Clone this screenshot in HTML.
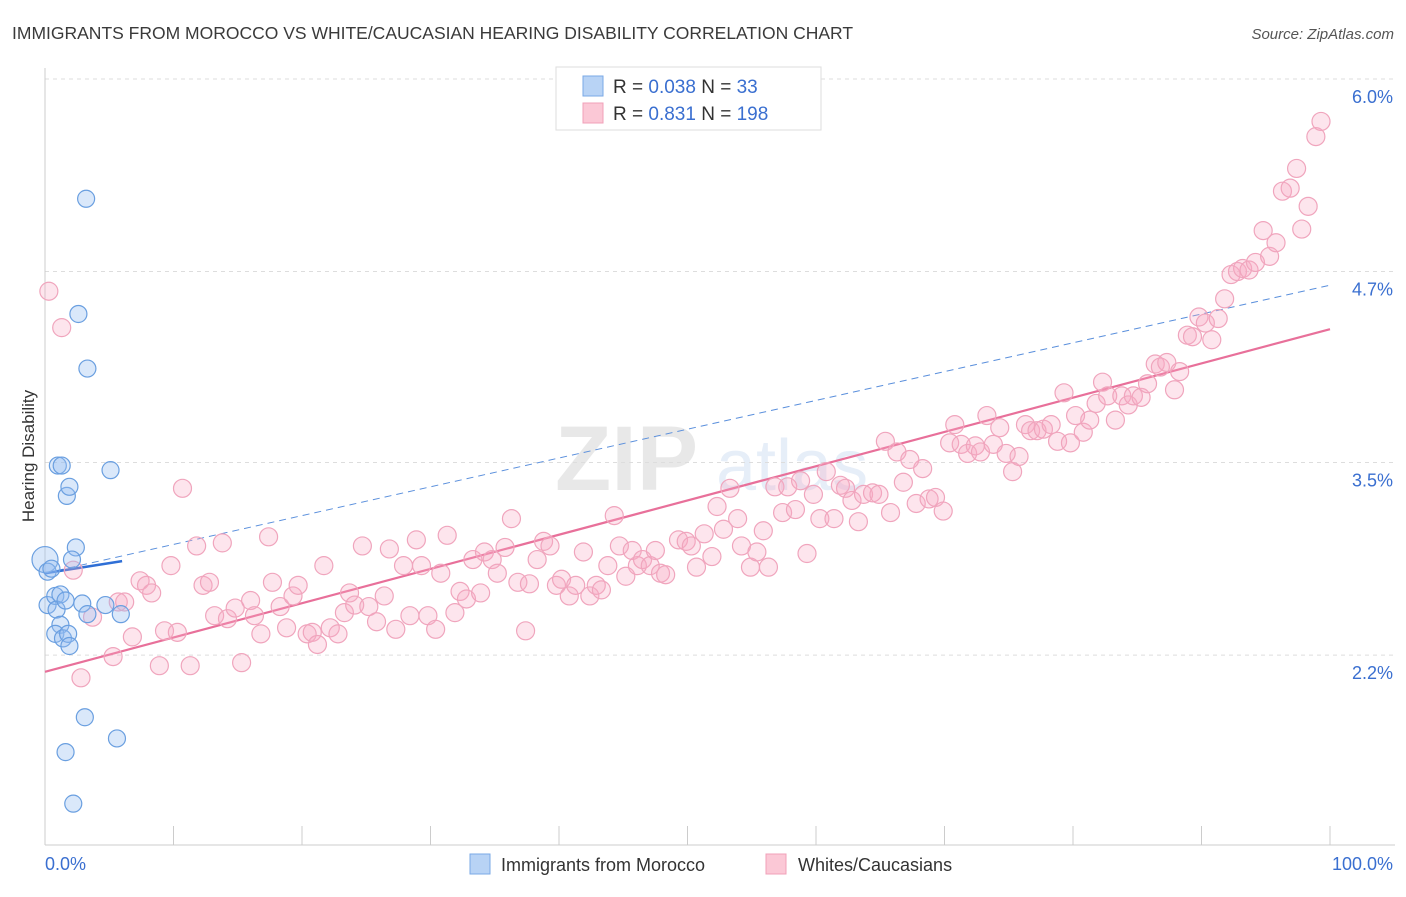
<!DOCTYPE html>
<html><head><meta charset="utf-8">
<style>
body{margin:0;background:#fff;font-family:"Liberation Sans",sans-serif;}
svg text{font-family:"Liberation Sans",sans-serif;}
</style></head>
<body>
<svg id="chart" width="1406" height="892" viewBox="0 0 1406 892" xmlns="http://www.w3.org/2000/svg">
<text x="12" y="39" font-size="17.5" fill="#3a3a3a">IMMIGRANTS FROM MOROCCO VS WHITE/CAUCASIAN HEARING DISABILITY CORRELATION CHART</text>
<text x="1394" y="39" font-size="15" fill="#555" text-anchor="end" font-style="italic">Source: ZipAtlas.com</text>
<g opacity="0.13">
<text x="555" y="490" font-size="92" font-family="Liberation Serif" fill="#555" font-weight="bold">ZIP</text>
<text x="716" y="490" font-size="72" fill="#4a7fd0">atlas</text>
</g>
<g id="grid"></g>
<g id="axes"></g>
<g id="trends"></g>
<g id="pts"></g>
<text transform="translate(34,456) rotate(-90)" font-size="17" fill="#333" text-anchor="middle">Hearing Disability</text>
<g>
<rect x="556" y="67" width="265" height="63" fill="#fff" stroke="#ddd"/>
<rect x="583" y="76" width="20" height="20" fill="#b8d3f5" stroke="#7aa8e6"/>
<rect x="583" y="103" width="20" height="20" fill="#fbc8d6" stroke="#f0a0b8"/>
<text x="613" y="93" font-size="19" fill="#333">R = <tspan fill="#3a6fd0">0.038</tspan>   N =  <tspan fill="#3a6fd0"> 33</tspan></text>
<text x="613" y="120" font-size="19" fill="#333">R =  <tspan fill="#3a6fd0">0.831</tspan>   N = <tspan fill="#3a6fd0">198</tspan></text>
</g>
<g>
<rect x="470" y="854" width="20" height="20" fill="#b8d3f5" stroke="#7aa8e6"/>
<text x="501" y="871" font-size="18" fill="#333">Immigrants from Morocco</text>
<rect x="766" y="854" width="20" height="20" fill="#fbc8d6" stroke="#f0a0b8"/>
<text x="798" y="871" font-size="18" fill="#333">Whites/Caucasians</text>
</g>
</svg>
<script>
const yTicks=[2.2,3.47,4.73,6.0];
const yTickLabels=["2.2%","3.5%","4.7%","6.0%"];
const xTicks=[0,10,20,30,40,50,60,70,80,90,100];
const xTickLabels=["0.0%","100.0%"];
const moroccoX=[0,0.2,0.5,0.2,0.8,1.2,0.9,1.6,1.2,0.8,1.4,1.8,1.9,2.4,2.1,2.9,3.3,4.7,5.9,1.0,1.3,1.7,1.9,5.1,3.2,2.6,3.3,3.1,5.6,1.6,2.2];
const moroccoY=[2.83,2.75,2.77,2.53,2.59,2.60,2.50,2.56,2.40,2.34,2.31,2.34,2.26,2.91,2.83,2.54,2.47,2.53,2.47,3.45,3.45,3.25,3.31,3.42,5.21,4.45,4.09,1.79,1.65,1.56,1.22];
const whitesX=[0.3,1.3,11.8,10.7,13.8,17.4,2.2,2.8,5.3,3.7,5.7,6.2,6.8,7.4,7.9,8.3,8.9,9.3,10.3,9.8,11.3,12.3,12.8,13.2,14.2,14.8,15.3,16.0,16.3,16.8,17.7,18.3,18.8,19.3,19.7,20.4,20.8,21.2,21.7,22.2,22.8,23.7,23.3,24.1,24.7,25.2,25.8,26.4,26.8,27.3,27.9,28.4,28.9,29.3,29.8,30.4,30.8,31.3,31.9,32.3,32.8,33.3,33.9,34.2,34.8,35.2,35.8,36.3,36.8,37.4,37.7,38.3,38.8,39.3,39.8,40.2,40.8,41.3,41.9,42.4,42.9,43.3,43.8,44.3,44.7,45.2,45.7,46.1,46.5,47.1,47.5,47.9,48.3,49.3,49.9,50.3,50.7,51.3,51.9,52.3,52.8,53.3,53.9,54.2,54.9,55.4,55.9,56.3,56.8,57.4,57.8,58.4,58.8,59.3,59.8,60.3,60.8,61.4,61.9,62.3,62.8,63.3,63.7,64.4,64.9,65.4,65.8,66.3,66.8,67.3,67.8,68.3,68.8,69.3,69.9,70.4,70.8,71.3,71.8,72.4,72.8,73.3,73.8,74.3,74.8,75.3,75.8,76.3,76.7,77.2,77.7,78.3,78.8,79.3,79.8,80.2,80.8,81.3,81.8,82.3,82.7,83.3,83.8,84.3,84.7,85.3,85.8,86.4,86.8,87.3,87.9,88.3,88.9,89.3,89.8,90.3,90.8,91.3,91.8,92.3,92.8,93.2,93.7,94.2,95.3,94.8,95.8,96.3,96.9,97.4,97.8,98.3,98.9,99.3];
const whitesY=[4.60,4.36,2.92,3.30,2.94,2.98,2.76,2.05,2.19,2.45,2.55,2.55,2.32,2.69,2.66,2.61,2.13,2.36,2.35,2.79,2.13,2.66,2.68,2.46,2.44,2.51,2.15,2.56,2.46,2.34,2.68,2.52,2.38,2.59,2.66,2.34,2.35,2.27,2.79,2.38,2.34,2.61,2.48,2.53,2.92,2.52,2.42,2.59,2.90,2.37,2.79,2.46,2.96,2.79,2.46,2.37,2.74,2.99,2.48,2.62,2.57,2.83,2.61,2.88,2.83,2.74,2.91,3.10,2.68,2.36,2.67,2.83,2.95,2.92,2.66,2.70,2.59,2.66,2.88,2.59,2.66,2.63,2.79,3.12,2.92,2.72,2.89,2.79,2.83,2.79,2.89,2.74,2.73,2.96,2.95,2.92,2.78,3.00,2.85,3.18,3.03,3.30,3.10,2.92,2.78,2.88,3.02,2.78,3.31,3.14,3.31,3.16,3.35,2.87,3.26,3.10,3.41,3.10,3.32,3.30,3.22,3.08,3.26,3.27,3.26,3.61,3.14,3.54,3.34,3.49,3.20,3.43,3.23,3.24,3.15,3.60,3.72,3.59,3.53,3.58,3.54,3.78,3.59,3.70,3.53,3.41,3.51,3.72,3.68,3.68,3.69,3.72,3.61,3.93,3.60,3.78,3.67,3.75,3.86,4.00,3.91,3.75,3.91,3.85,3.91,3.90,3.99,4.12,4.10,4.13,3.95,4.07,4.31,4.30,4.43,4.39,4.28,4.42,4.55,4.71,4.73,4.75,4.74,4.79,4.83,5.00,4.92,5.26,5.28,5.41,5.01,5.16,5.62,5.72];
const whitesTrendX=[0,100];
const whitesTrendY=[2.09,4.35];
const moroccoDashX=[0,100];
const moroccoDashY=[2.74,4.64];
const moroccoSolidX=[0,6];
const moroccoSolidY=[2.74,2.82];

const NS="http://www.w3.org/2000/svg";
const X=v=>45+v*12.85;
const Y=v=>79+(6.0-v)*151.6;
function mk(tag,attrs,parent){const e=document.createElementNS(NS,tag);for(const k in attrs)e.setAttribute(k,attrs[k]);parent.appendChild(e);return e;}
const grid=document.getElementById('grid'),axes=document.getElementById('axes'),trends=document.getElementById('trends'),pts=document.getElementById('pts');
yTicks.forEach((t,i)=>{
  const l=mk('line',{x1:45,x2:1395,y1:Y(t),y2:Y(t),stroke:'#ddd','stroke-dasharray':'4,4'},grid);
  
  
  const tx=mk('text',{x:1393,y:Y(t)+24,'font-size':18,fill:'#3a6fd0','text-anchor':'end'},grid);
  tx.textContent=yTickLabels[i];
  
  
});
const ax=mk('line',{x1:45,x2:45,y1:68,y2:845,stroke:'#ccc'},axes);


const bx=mk('line',{x1:45,x2:1395,y1:845,y2:845,stroke:'#ccc'},axes);


xTicks.forEach(t=>{
  const l=mk('line',{x1:X(t),x2:X(t),y1:826,y2:845,stroke:'#ccc'},axes);
  
  
});
const xl0=mk('text',{x:45,y:870,'font-size':18,fill:'#3a6fd0'},axes);xl0.textContent=xTickLabels[0];


const xl1=mk('text',{x:1393,y:870,'font-size':18,fill:'#3a6fd0','text-anchor':'end'},axes);xl1.textContent=xTickLabels[1];



whitesX.forEach((x,i)=>{
  const c=mk('circle',{cx:X(x),cy:Y(whitesY[i]),r:9,fill:'rgba(248,170,195,0.3)',stroke:'#f0a5bd','stroke-width':1.2},pts);
  
  
});
moroccoX.forEach((x,i)=>{
  const c=mk('circle',{cx:X(x),cy:Y(moroccoY[i]),r:i===0?13:8.5,fill:'rgba(150,190,240,0.35)',stroke:'#6a9fe0','stroke-width':1.2},pts);
  
  
});
const t1=mk('line',{x1:X(whitesTrendX[0]),y1:Y(whitesTrendY[0]),x2:X(whitesTrendX[1]),y2:Y(whitesTrendY[1]),stroke:'#e8709a','stroke-width':2.2},trends);


const t2=mk('line',{x1:X(moroccoDashX[0]),y1:Y(moroccoDashY[0]),x2:X(moroccoDashX[1]),y2:Y(moroccoDashY[1]),stroke:'#5a8fdc','stroke-width':1,'stroke-dasharray':'7,5'},trends);


const t3=mk('line',{x1:X(moroccoSolidX[0]),y1:Y(moroccoSolidY[0]),x2:X(moroccoSolidX[1]),y2:Y(moroccoSolidY[1]),stroke:'#2f6fd6','stroke-width':2.5},trends);


</script>
</body></html>
